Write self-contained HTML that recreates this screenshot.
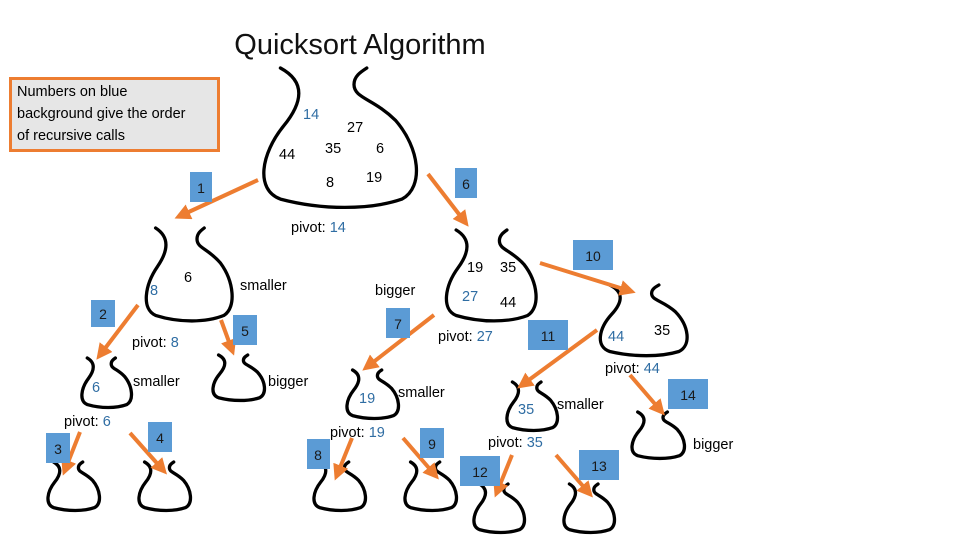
<!DOCTYPE html>
<html><head><meta charset="utf-8"><style>
html,body{margin:0;padding:0;background:#fff;}
svg{display:block;font-family:"Liberation Sans",sans-serif;}
.a{stroke:#ED7D31;stroke-width:4;fill:none}
.bx{fill:#5B9BD5}
.n{font-size:14px;fill:#1a1a1a}
.t{font-size:14.5px;fill:#000}
.bl{fill:#2F6DA3}
</style></head><body>
<svg width="960" height="540" viewBox="0 0 960 540">
<defs>
<path id="bag" fill="none" stroke="#000" stroke-width="3.3" vector-effect="non-scaling-stroke" stroke-linecap="round" d="M14,0 C30,10 28,25 16,42 C2,62 -2,88 14,95 C40,103 70,103 90,95 C104,86 101,58 86,38 C72,22 60,22 60,12 C60,6 64,3 68,0"/>
<marker id="ah" markerWidth="4" markerHeight="4" refX="2.5" refY="2" orient="auto" markerUnits="strokeWidth"><path d="M0,0 L4,2 L0,4 z" fill="#ED7D31"/></marker>
</defs>
<text x="360" y="54" font-size="29" text-anchor="middle" fill="#111">Quicksort Algorithm</text>
<rect x="10.5" y="78.5" width="208" height="72" fill="#e6e6e6" stroke="#ED7D31" stroke-width="3"/>
<text x="17" y="96" font-size="14.5">Numbers on blue</text>
<text x="17" y="118" font-size="14.5">background give the order</text>
<text x="17" y="140" font-size="14.5">of recursive calls</text>

<g>
<use href="#bag" transform="translate(258,68) scale(1.6,1.38)"/>
<use href="#bag" transform="translate(143,228) scale(0.9,0.92)"/>
<use href="#bag" transform="translate(443,230) scale(0.94,0.9)"/>
<use href="#bag" transform="translate(80,358) scale(0.52,0.49)"/>
<use href="#bag" transform="translate(211,355) scale(0.54,0.45)"/>
<use href="#bag" transform="translate(345,370) scale(0.54,0.48)"/>
<use href="#bag" transform="translate(46,462) scale(0.54,0.48)"/>
<use href="#bag" transform="translate(137,462) scale(0.54,0.48)"/>
<use href="#bag" transform="translate(312,462) scale(0.54,0.48)"/>
<use href="#bag" transform="translate(403,462) scale(0.54,0.48)"/>
<use href="#bag" transform="translate(597,285) scale(0.91,0.7)"/>
<use href="#bag" transform="translate(505,382) scale(0.53,0.48)"/>
<use href="#bag" transform="translate(630,412) scale(0.55,0.46)"/>
<use href="#bag" transform="translate(472,484) scale(0.53,0.48)"/>
<use href="#bag" transform="translate(562,484) scale(0.53,0.48)"/>
</g>

<g class="a" marker-end="url(#ah)">
<line x1="258" y1="180" x2="180" y2="216"/>
<line x1="428" y1="174" x2="465" y2="222"/>
<line x1="138" y1="305" x2="100" y2="355"/>
<line x1="221" y1="320" x2="232" y2="350"/>
<line x1="540" y1="263" x2="630" y2="291"/>
<line x1="434" y1="315" x2="367" y2="367"/>
<line x1="597" y1="330" x2="522" y2="385"/>
<line x1="630" y1="375" x2="661" y2="411"/>
<line x1="80" y1="432" x2="65" y2="470"/>
<line x1="130" y1="433" x2="163" y2="470"/>
<line x1="352" y1="438" x2="337" y2="475"/>
<line x1="403" y1="438" x2="435" y2="475"/>
<line x1="512" y1="455" x2="497" y2="492"/>
<line x1="556" y1="455" x2="589" y2="493"/>
</g>

<g class="bx">
<rect x="190" y="172" width="22" height="30"/>
<rect x="455" y="168" width="22" height="30"/>
<rect x="91" y="300" width="24" height="27"/>
<rect x="233" y="315" width="24" height="30"/>
<rect x="386" y="308" width="24" height="30"/>
<rect x="573" y="240" width="40" height="30"/>
<rect x="528" y="320" width="40" height="30"/>
<rect x="668" y="379" width="40" height="30"/>
<rect x="46" y="433" width="24" height="30"/>
<rect x="148" y="422" width="24" height="30"/>
<rect x="307" y="439" width="23" height="30"/>
<rect x="420" y="428" width="24" height="30"/>
<rect x="460" y="456" width="40" height="30"/>
<rect x="579" y="450" width="40" height="30"/>
</g>
<g class="n" text-anchor="middle">
<text x="201" y="193">1</text><text x="466" y="189">6</text>
<text x="103" y="319">2</text><text x="245" y="336">5</text>
<text x="398" y="329">7</text><text x="593" y="261">10</text>
<text x="548" y="341">11</text><text x="688" y="400">14</text>
<text x="58" y="454">3</text><text x="160" y="443">4</text>
<text x="318" y="460">8</text><text x="432" y="449">9</text>
<text x="480" y="477">12</text><text x="599" y="471">13</text>
</g>

<g class="t">
<text x="303" y="119" class="bl">14</text>
<text x="347" y="132">27</text>
<text x="279" y="159">44</text>
<text x="325" y="153">35</text>
<text x="376" y="153">6</text>
<text x="326" y="187">8</text>
<text x="366" y="182">19</text>
<text x="291" y="232">pivot: <tspan class="bl">14</tspan></text>
<text x="150" y="295" class="bl">8</text>
<text x="184" y="282">6</text>
<text x="240" y="290">smaller</text>
<text x="375" y="295">bigger</text>
<text x="467" y="272">19</text><text x="500" y="272">35</text>
<text x="462" y="301" class="bl">27</text><text x="500" y="307">44</text>
<text x="438" y="341">pivot: <tspan class="bl">27</tspan></text>
<text x="132" y="347">pivot: <tspan class="bl">8</tspan></text>
<text x="92" y="392" class="bl">6</text>
<text x="133" y="386">smaller</text>
<text x="268" y="386">bigger</text>
<text x="64" y="426">pivot: <tspan class="bl">6</tspan></text>
<text x="359" y="403" class="bl">19</text>
<text x="398" y="397">smaller</text>
<text x="330" y="437">pivot: <tspan class="bl">19</tspan></text>
<text x="608" y="341" class="bl">44</text><text x="654" y="335">35</text>
<text x="605" y="373">pivot: <tspan class="bl">44</tspan></text>
<text x="518" y="414" class="bl">35</text>
<text x="557" y="409">smaller</text>
<text x="488" y="447">pivot: <tspan class="bl">35</tspan></text>
<text x="693" y="449">bigger</text>
</g>
</svg>
</body></html>
